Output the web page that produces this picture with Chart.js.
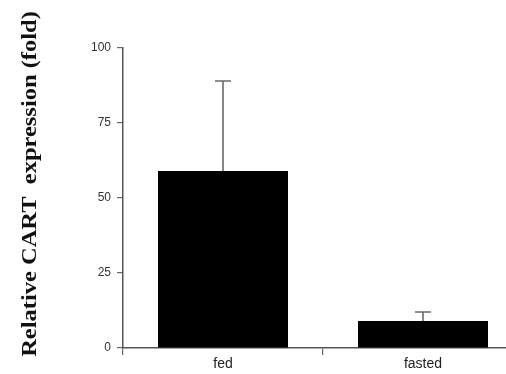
<!DOCTYPE html>
<html>
<head>
<meta charset="utf-8">
<script src="https://cdn.jsdelivr.net/npm/chart.js@4.4.1/dist/chart.umd.min.js"></script>
<style>
  html, body { margin: 0; padding: 0; background: #fff; overflow: hidden; }
  #wrap { position: relative; width: 523px; height: 374px; }
</style>
</head>
<body>
<div id="wrap"><canvas id="c"></canvas></div>
<script>
// Relative CART expression, fed vs fasted
const categories = ['fed', 'fasted'];
const meanFold = [59, 9];
const semUpper = [30, 3];
const yTicks = [0, 25, 50, 75, 100];
const yTitle = 'Relative CART  expression (fold)';

// Upper-only error bars, drawn through the value scale
const errorBars = {
  id: 'errorBars',
  afterDatasetsDraw(chart) {
    const ctx = chart.ctx;
    const meta = chart.getDatasetMeta(0);
    const y = chart.scales.y;
    ctx.save();
    ctx.strokeStyle = '#6a6a6a';
    ctx.lineWidth = 1.6;
    meta.data.forEach((bar, i) => {
      const x = bar.x;
      const y0 = y.getPixelForValue(meanFold[i]);
      const y1 = y.getPixelForValue(meanFold[i] + semUpper[i]);
      ctx.beginPath();
      ctx.moveTo(x, y0);
      ctx.lineTo(x, y1);
      ctx.moveTo(x - 8, y1);
      ctx.lineTo(x + 8, y1);
      ctx.stroke();
    });
    ctx.restore();
  }
};

// Rotated y-axis caption, set a little above the plot's mid-height,
// with slightly condensed glyph height
const sideTitle = {
  id: 'sideTitle',
  afterDraw(chart) {
    const ctx = chart.ctx;
    const area = chart.chartArea;
    ctx.save();
    ctx.translate(31, (area.top + area.bottom) / 2 - 14);
    ctx.rotate(-Math.PI / 2);
    ctx.scale(1, 0.86);
    ctx.font = 'bold 24.5px "Liberation Serif"';
    ctx.fillStyle = '#111';
    ctx.textAlign = 'center';
    ctx.textBaseline = 'middle';
    ctx.fillText(yTitle, 0, 0);
    ctx.restore();
  }
};

new Chart(document.getElementById('c'), {
  type: 'bar',
  data: {
    labels: categories,
    datasets: [{
      data: meanFold,
      backgroundColor: '#000',
      borderWidth: 0,
      barPercentage: 0.65,
      categoryPercentage: 1.0
    }]
  },
  options: {
    responsive: true,
    maintainAspectRatio: false,
    animation: false,
    layout: { padding: { left: 0, top: 48, right: 0, bottom: 0 } },
    plugins: { legend: { display: false }, tooltip: { enabled: false } },
    scales: {
      x: {
        grid: { drawOnChartArea: false, drawTicks: true, tickLength: 7, color: '#666', lineWidth: 1.2, offset: true },
        border: { display: true, color: '#555', width: 1.5 },
        ticks: { color: '#222', font: { family: 'Liberation Sans', size: 14 }, padding: 1 },
        afterFit(scale) { scale.height = 26; }
      },
      y: {
        min: 0,
        max: 100,
        afterBuildTicks(scale) { scale.ticks = yTicks.map(v => ({ value: v })); },
        grid: { drawOnChartArea: false, drawTicks: true, tickLength: 6, color: '#666', lineWidth: 1.2 },
        border: { display: true, color: '#555', width: 1.5 },
        ticks: { color: '#333', font: { family: 'Liberation Sans', size: 12 }, padding: 6 },
        afterFit(scale) { scale.width = 123; }
      }
    }
  },
  plugins: [errorBars, sideTitle]
});
</script>
</body>
</html>
